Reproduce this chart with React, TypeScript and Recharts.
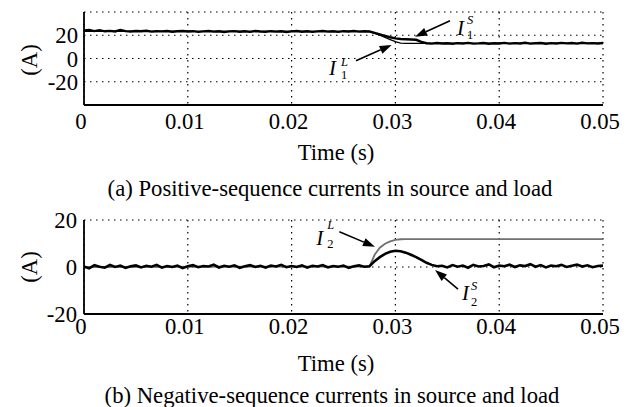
import React from "react";
import {
  LineChart,
  Line,
  XAxis,
  YAxis,
  CartesianGrid,
  ReferenceLine,
} from "recharts";

const FONT = '"Liberation Serif", "Times New Roman", serif';

// time axis (s), 0.5 ms steps
const time = [
  0, 0.0005, 0.001, 0.0015, 0.002, 0.0025, 0.003, 0.0035, 0.004, 0.0045,
  0.005, 0.0055, 0.006, 0.0065, 0.007, 0.0075, 0.008, 0.0085, 0.009, 0.0095,
  0.01, 0.0105, 0.011, 0.0115, 0.012, 0.0125, 0.013, 0.0135, 0.014, 0.0145,
  0.015, 0.0155, 0.016, 0.0165, 0.017, 0.0175, 0.018, 0.0185, 0.019, 0.0195,
  0.02, 0.0205, 0.021, 0.0215, 0.022, 0.0225, 0.023, 0.0235, 0.024, 0.0245,
  0.025, 0.0255, 0.026, 0.0265, 0.027, 0.0275, 0.028, 0.0285, 0.029, 0.0295,
  0.03, 0.0305, 0.031, 0.0315, 0.032, 0.0325, 0.033, 0.0335, 0.034, 0.0345,
  0.035, 0.0355, 0.036, 0.0365, 0.037, 0.0375, 0.038, 0.0385, 0.039, 0.0395,
  0.04, 0.0405, 0.041, 0.0415, 0.042, 0.0425, 0.043, 0.0435, 0.044, 0.0445,
  0.045, 0.0455, 0.046, 0.0465, 0.047, 0.0475, 0.048, 0.0485, 0.049, 0.0495,
  0.05,
];

// I1^S : positive-sequence source current (A)
const sourcePos = [
  24.2, 24.5, 23.6, 24.4, 23.4, 23.8, 23.3, 24.6, 23.5, 23.2,
  23.6, 23.4, 23.9, 23.1, 23.5, 23.3, 23.6, 23.0, 23.4, 23.7,
  23.2, 23.5, 22.9, 23.3, 23.6, 23.1, 23.4, 22.8, 23.3, 23.5,
  23.0, 23.4, 22.9, 23.6, 23.2, 23.0, 23.5, 23.1, 23.4, 22.8,
  23.3, 23.6, 23.0, 23.4, 22.9, 23.3, 23.6, 23.1, 23.4, 22.9,
  23.5, 23.2, 23.6, 23.1, 23.4, 23.2, 22.0, 20.8, 19.5, 18.3,
  17.3, 16.8, 16.6, 16.4, 16.1, 14.3, 13.1, 12.8, 13.3, 12.9,
  13.1, 12.7, 13.2, 12.9, 13.4, 12.8, 13.0, 13.3, 12.7, 13.1,
  12.9, 13.4, 12.8, 13.2, 12.9, 13.5, 12.8, 13.1, 13.3, 12.7,
  13.2, 12.9, 13.4, 13.0, 13.3, 12.8, 13.5, 13.0, 13.2, 12.9,
  13.3,
];

// I2^S : negative-sequence source current (A)
const sourceNeg = [
  0.2, -0.6, 0.8, 0.1, -0.3, 0.9, 0.0, 0.6, -0.4, 0.3,
  0.7, -0.2, 0.5, 0.1, 0.9, -0.3, 0.4, 0.0, 0.6, -0.5,
  0.3, 0.8, -0.1, 0.4, 0.2, 1.0, -0.2, 0.5, 0.1, 0.7,
  -0.4, 0.3, 0.8, 0.0, 0.5, -0.3, 0.6, 0.2, 0.9, -0.1,
  0.4, 0.0, 0.7, -0.3, 0.5, 0.2, 0.8, -0.2, 0.4, 0.1,
  0.6, -0.4, 0.3, 0.7, 0.1, 0.3, 2.5, 4.2, 5.6, 6.5,
  6.9, 6.7, 6.1, 5.2, 4.2, 3.0, 1.8, 0.9, 0.3, 0.5,
  -0.2, 0.8, 0.1, 0.6, -0.3, 0.9, 0.2, 0.4, 1.1, -0.1,
  0.6, 0.3, 1.0, 0.0, 0.7, 0.4, 1.2, 0.1, 0.8, -0.2,
  0.6, 0.3, 0.9, 0.0, 0.5, 1.0, 0.2, 0.7, -0.1, 0.4,
  0.6,
];

// load currents (I1^L, I2^L) are smooth, fewer samples
const loadTime = [0, 0.0275, 0.028, 0.0285, 0.029, 0.0295, 0.03, 0.0305, 0.031, 0.05];
const loadPos = [23.4, 23.3, 21.7, 20.0, 18.2, 16.3, 14.5, 13.3, 13.0, 13.0];
const loadNeg = [0, 0.2, 5.2, 8.2, 9.9, 10.9, 11.5, 11.8, 11.9, 11.9];

const timeTicks = [0, 0.01, 0.02, 0.03, 0.04, 0.05];
const posTicks = [-20, 0, 20];
const negTicks = [-20, 0, 20];

const posRows = time.map((t, i) => ({ t, v: sourcePos[i] }));
const negRows = time.map((t, i) => ({ t, v: sourceNeg[i] }));
const loadPosRows = loadTime.map((t, i) => ({ t, v: loadPos[i] }));
const loadNegRows = loadTime.map((t, i) => ({ t, v: loadNeg[i] }));

const FS = 22.7;
const fmtTime = (v: number) => (v === 0 ? "0" : v.toFixed(2));
const tickFont = { fill: "#000", fontSize: FS, fontFamily: FONT };
const frameLine = { stroke: "#000", strokeWidth: 1.8 };

interface ArrowLabel {
  sup: string;
  sub: string;
  dx: number;
  dy: number;
  sdx: number;
  supDy: number;
  subDy: number;
}

const arrowShape = (lbl: ArrowLabel) => (p: any) => {
  const { x1, y1, x2, y2 } = p;
  const a = Math.atan2(y2 - y1, x2 - x1);
  const len = 12;
  const half = 4.2;
  const bx = x2 - len * Math.cos(a);
  const by = y2 - len * Math.sin(a);
  const pts = `${x2},${y2} ${bx + half * Math.sin(a)},${by - half * Math.cos(a)} ${bx - half * Math.sin(a)},${by + half * Math.cos(a)}`;
  return (
    <g>
      <line x1={x1} y1={y1} x2={bx} y2={by} stroke="#000" strokeWidth={1.6} />
      <polygon points={pts} fill="#000" />
      <text x={x1 + lbl.dx} y={y1 + lbl.dy} fontFamily={FONT} fontStyle="italic" fontSize={21} fill="#000">
        I
      </text>
      <text x={x1 + lbl.sdx} y={y1 + lbl.supDy} fontFamily={FONT} fontStyle="italic" fontSize={12.5} fill="#000">
        {lbl.sup}
      </text>
      <text x={x1 + lbl.sdx} y={y1 + lbl.subDy} fontFamily={FONT} fontSize={12.5} fill="#000">
        {lbl.sub}
      </text>
    </g>
  );
};

// box + inward ticks, like the original plotting tool
const frameAxes = (domain: number[], yTicks: number[]) => [
  <XAxis key="xt" xAxisId="top" orientation="top" mirror height={0} type="number" dataKey="t"
    domain={[0, 0.05]} ticks={timeTicks} interval={0} allowDataOverflow tickSize={5}
    tickFormatter={() => ""} axisLine={frameLine} tickLine={{ stroke: "#000" }} />,
  <XAxis key="xb" xAxisId="inner" orientation="bottom" mirror height={0} type="number" dataKey="t"
    domain={[0, 0.05]} ticks={timeTicks} interval={0} allowDataOverflow tickSize={5}
    tickFormatter={() => ""} axisLine={frameLine} tickLine={{ stroke: "#000" }} />,
  <YAxis key="yr" yAxisId="right" orientation="right" mirror width={0} type="number"
    domain={domain} ticks={yTicks} interval={0} allowDataOverflow tickSize={5}
    tickFormatter={() => ""} axisLine={frameLine} tickLine={{ stroke: "#000" }} />,
  <YAxis key="yi" yAxisId="inner" orientation="left" mirror width={0} type="number"
    domain={domain} ticks={yTicks} interval={0} allowDataOverflow tickSize={5}
    tickFormatter={() => ""} axisLine={frameLine} tickLine={{ stroke: "#000" }} />,
];

export default function App() {
  return (
    <div style={{ position: "absolute", left: 0, top: 0, width: 628, height: 407, background: "#fff" }}>
      <div style={{ position: "absolute", left: 0, top: 0 }}>
        <LineChart width={628} height={140} data={posRows} margin={{ top: 12, right: 25, left: 0, bottom: 0 }}>
          <CartesianGrid stroke="#000" strokeWidth={1.2} strokeDasharray="1.5 4.5" />
          <XAxis type="number" dataKey="t" domain={[0, 0.05]} ticks={timeTicks} interval={0} allowDataOverflow
            height={35} tickFormatter={fmtTime} tick={tickFont} tickLine={false} tickSize={6}
            tickMargin={2} axisLine={frameLine} dx={-3} />
          <YAxis type="number" domain={[-40, 40]} ticks={posTicks} interval={0} allowDataOverflow width={84}
            tick={tickFont} tickLine={false} tickSize={4} tickMargin={2} axisLine={frameLine} />
          {frameAxes([-40, 40], posTicks)}
          <Line data={loadPosRows} dataKey="v" stroke="#000" strokeWidth={1.3} dot={false}
            type="linear" isAnimationActive={false} />
          <Line dataKey="v" stroke="#000" strokeWidth={2.4} dot={false} type="linear"
            isAnimationActive={false} />
          <ReferenceLine ifOverflow="visible" segment={[{ x: 0.03526, y: 32.5 }, { x: 0.03189, y: 18.75 }]}
            shape={arrowShape({ sup: "S", sub: "1", dx: 7, dy: 14, sdx: 17, supDy: 3, subDy: 18 })} />
          <ReferenceLine ifOverflow="visible" segment={[{ x: 0.0262, y: -1.9 }, { x: 0.02964, y: 11.6 }]}
            shape={arrowShape({ sup: "L", sub: "1", dx: -27, dy: 14, sdx: -15, supDy: 5, subDy: 18 })} />
        </LineChart>
      </div>

      <div style={{ position: "absolute", left: 0, top: 200 }}>
        <LineChart width={628} height={140} data={negRows} margin={{ top: 20, right: 25, left: 0, bottom: 0 }}>
          <CartesianGrid stroke="#000" strokeWidth={1.2} strokeDasharray="1.5 4.5" />
          <XAxis type="number" dataKey="t" domain={[0, 0.05]} ticks={timeTicks} interval={0} allowDataOverflow
            height={26} tickFormatter={fmtTime} tick={tickFont} tickLine={false} tickSize={2}
            tickMargin={2} axisLine={frameLine} dx={-3} />
          <YAxis type="number" domain={[-20, 20]} ticks={negTicks} interval={0} allowDataOverflow width={84}
            tick={tickFont} tickLine={false} tickSize={5} tickMargin={2} axisLine={frameLine} />
          {frameAxes([-20, 20], negTicks)}
          <Line data={loadNegRows} dataKey="v" stroke="#707070" strokeWidth={1.8} dot={false}
            type="linear" isAnimationActive={false} />
          <Line dataKey="v" stroke="#000" strokeWidth={2.6} dot={false} type="linear"
            isAnimationActive={false} />
          <ReferenceLine ifOverflow="visible" segment={[{ x: 0.0246, y: 15.0 }, { x: 0.02803, y: 8.6 }]}
            shape={arrowShape({ sup: "L", sub: "2", dx: -23, dy: 13, sdx: -12, supDy: -3, subDy: 16 })} />
          <ReferenceLine ifOverflow="visible" segment={[{ x: 0.03603, y: -9.4 }, { x: 0.03382, y: -1.3 }]}
            shape={arrowShape({ sup: "S", sub: "2", dx: 4, dy: 11, sdx: 13, supDy: 1, subDy: 17 })} />
        </LineChart>
      </div>

      <svg width={628} height={407} style={{ position: "absolute", left: 0, top: 0, pointerEvents: "none" }}
        fontFamily={FONT} fontSize={FS} fill="#000">
        <text x={29} y={60} textAnchor="middle" dominantBaseline="central" transform="rotate(-90 29 60)">(A)</text>
        <text x={29} y={267} textAnchor="middle" dominantBaseline="central" transform="rotate(-90 29 267)">(A)</text>
        <text x={336} y={152} textAnchor="middle" dominantBaseline="central">Time (s)</text>
        <text x={330} y={188} textAnchor="middle" dominantBaseline="central">
          (a) Positive-sequence currents in source and load
        </text>
        <text x={336} y={363} textAnchor="middle" dominantBaseline="central">Time (s)</text>
        <text x={332} y={395} textAnchor="middle" dominantBaseline="central">
          (b) Negative-sequence currents in source and load
        </text>
      </svg>
    </div>
  );
}
